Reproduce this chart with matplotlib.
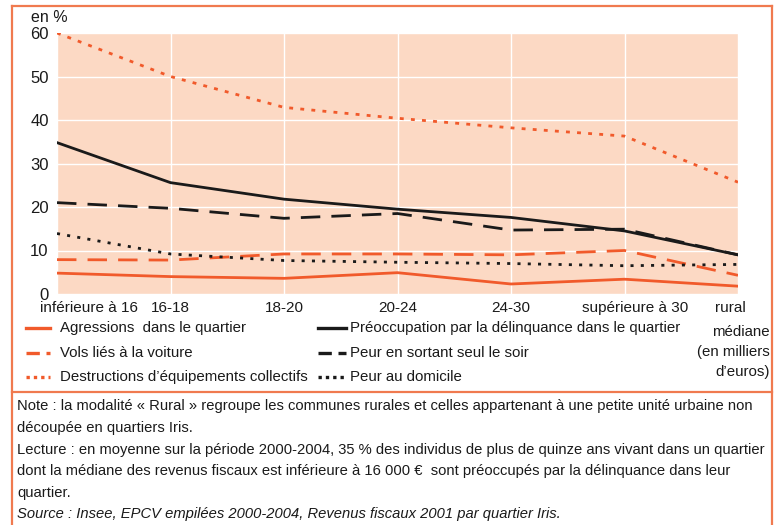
import matplotlib
matplotlib.use('Agg')
import matplotlib.pyplot as plt
from matplotlib.lines import Line2D

W, H = 780, 525

categories = ['inférieure à 16', '16-18', '18-20', '20-24', '24-30', 'supérieure à 30', 'rural']
agressions = [4.8, 4.0, 3.6, 4.9, 2.3, 3.4, 1.8]
vols = [7.9, 7.8, 9.2, 9.2, 9.0, 10.0, 4.3]
destructions = [60.0, 50.0, 42.9, 40.4, 38.2, 36.3, 25.7]
preoccupation = [34.8, 25.6, 21.8, 19.5, 17.6, 14.5, 9.0]
peur_soir = [21.0, 19.7, 17.4, 18.5, 14.7, 14.9, 9.0]
peur_domicile = [13.9, 9.2, 7.7, 7.3, 7.0, 6.5, 6.8]
yticks = [0, 10, 20, 30, 40, 50, 60]

ORANGE = '#f15a2b'
FRAME = '#f07a4f'
BG = '#fcd9c4'
BLACK = '#1a1a1a'

plt.rcParams['font.family'] = ['Liberation Sans', 'DejaVu Sans']


def fx(px):
    return px / W


def fy(py):
    return 1 - py / H


fig = plt.figure(figsize=(7.8, 5.25), dpi=100)

ax = fig.add_axes([fx(57), fy(294), fx(738) - fx(57), fy(33) - fy(294)])
ax.set_facecolor(BG)
x = list(range(len(categories)))

styles = [
    (agressions, ORANGE, '-', 2.0),
    (vols, ORANGE, (0, (7, 4)), 2.0),
    (destructions, ORANGE, (0, (1.4, 2.6)), 2.0),
    (preoccupation, BLACK, '-', 2.0),
    (peur_soir, BLACK, (0, (7, 4)), 2.0),
    (peur_domicile, BLACK, (0, (1.1, 2.6)), 2.0),
]
for vals, col, ls, lw in styles:
    ax.plot(x, vals, color=col, linestyle=ls, linewidth=lw, zorder=3)

ax.set_xlim(0, len(categories) - 1)
ax.set_ylim(0, 60)
ax.set_xticks(x)
ax.set_xticklabels([])
ax.set_yticks(yticks)
ax.set_yticklabels([str(t) for t in yticks], fontsize=12, color=BLACK)
ax.tick_params(length=0, pad=6)
ax.grid(True, color='white', linewidth=1.0)
ax.set_axisbelow(True)
for s in ax.spines.values():
    s.set_visible(False)

# x labels (edge labels shifted as in the original)
offsets = {0: ('left', -0.15), 5: ('center', 0.09), 6: ('center', -0.07)}
for i, lab in enumerate(categories):
    ha, dx = offsets.get(i, ('center', 0))
    ax.text(i + dx, -1.7, lab, ha=ha, va='top', fontsize=11, color=BLACK)

fig.text(fx(31), fy(18), 'en %', fontsize=11.5, color=BLACK, va='center')

# legend
rows = [328, 353, 377]
left_items = [('Agressions  dans le quartier', ORANGE, '-', 2.4),
              ('Vols liés à la voiture', ORANGE, (0, (4, 2)), 2.4),
              ('Destructions d’équipements collectifs', ORANGE, (0, (1, 1.2)), 2.4)]
right_items = [('Préoccupation par la délinquance dans le quartier', BLACK, '-', 2.4),
               ('Peur en sortant seul le soir', BLACK, (0, (4, 2)), 2.4),
               ('Peur au domicile', BLACK, (0, (1, 1.2)), 2.4)]
for items, x0, x1, xt in [(left_items, 26, 50, 60), (right_items, 318, 346, 350)]:
    for (lab, col, ls, lw), ry in zip(items, rows):
        fig.add_artist(Line2D([fx(x0), fx(x1)], [fy(ry), fy(ry)], color=col,
                              linestyle=ls, linewidth=lw, transform=fig.transFigure))
        fig.text(fx(xt), fy(ry), lab, fontsize=10.8, color=BLACK, va='center')

fig.text(fx(770), fy(352), 'médiane\n(en milliers\nd’euros)', fontsize=10.8,
         color=BLACK, ha='right', va='center', multialignment='right', linespacing=1.55)

# notes
notes = [
    ('Note : la modalité « Rural » regroupe les communes rurales et celles appartenant à une petite unité urbaine non', 'normal'),
    ('découpée en quartiers Iris.', 'normal'),
    ('Lecture : en moyenne sur la période 2000-2004, 35 % des individus de plus de quinze ans vivant dans un quartier', 'normal'),
    ('dont la médiane des revenus fiscaux est inférieure à 16 000 €  sont préoccupés par la délinquance dans leur', 'normal'),
    ('quartier.', 'normal'),
    ('Source : Insee, EPCV empilées 2000-2004, Revenus fiscaux 2001 par quartier Iris.', 'italic'),
]
for (txt, st), ny in zip(notes, [406, 428, 450, 471, 493, 514]):
    fig.text(fx(17), fy(ny), txt, fontsize=10.65, color=BLACK, va='center', style=st)

# frame
for xs, ys in [([12, 772], [6, 6]), ([12, 772], [392, 392]),
               ([12, 12], [6, 525]), ([772, 772], [6, 525])]:
    fig.add_artist(Line2D([fx(v) for v in xs], [fy(v) for v in ys], color=FRAME,
                          linewidth=1.6, transform=fig.transFigure))

fig.savefig('out.png', dpi=100)
